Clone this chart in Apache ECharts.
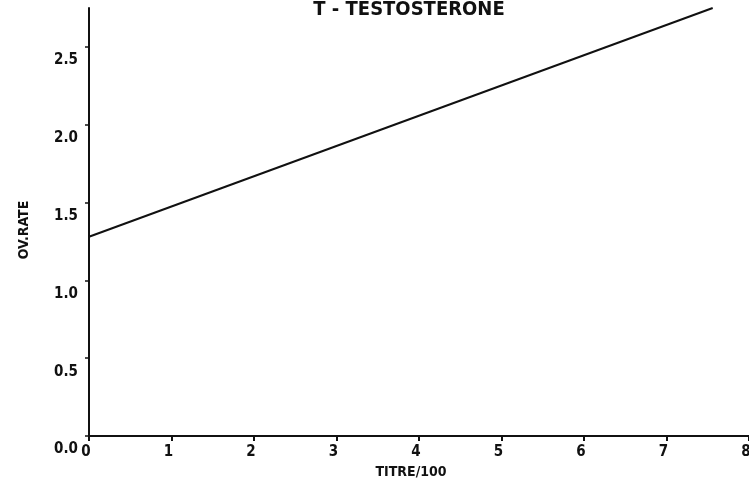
<!DOCTYPE html>
<html>
<head>
<meta charset="utf-8">
<script src="https://cdn.jsdelivr.net/npm/echarts@6/dist/echarts.min.js"></script>
<style>
  html, body { margin: 0; padding: 0; background: #fff; }
  #chart { width: 749px; height: 480px; }
</style>
</head>
<body>
<div id="chart"></div>
<script>
// Fitted ovulation rate against titre: straight line endpoints
const titre = [0, 7.56];
const ovRate = [1.28, 2.75];

// Axis ticks
const xTicks = [0, 1, 2, 3, 4, 5, 6, 7, 8];
const yTicks = [0.0, 0.5, 1.0, 1.5, 2.0, 2.5];

const chartTitle = 'T - TESTOSTERONE';
const xName = 'TITRE/100';
const yName = 'OV.RATE';

const FONT = '"DejaVu Sans Condensed", "Liberation Sans Narrow", sans-serif';
const INK = '#111';

const chart = echarts.init(document.getElementById('chart'), null, { renderer: 'canvas' });

chart.setOption({
  animation: false,
  backgroundColor: '#fff',
  title: {
    text: chartTitle,
    left: 404,
    top: -5,
    textAlign: 'center',
    textStyle: { fontFamily: FONT, fontSize: 20, fontWeight: 'bold', color: INK }
  },
  grid: { left: 89, right: 0, top: 8, bottom: 44, outerBoundsMode: 'none', containLabel: false },
  xAxis: {
    type: 'value',
    min: 0,
    max: 8,
    interval: 1,
    name: xName,
    nameLocation: 'middle',
    nameGap: 29,
    nameTextStyle: { fontFamily: FONT, fontSize: 14, fontWeight: 'bold', color: INK, padding: [0, 0, 0, -16] },
    splitLine: { show: false },
    axisLine: { show: true, lineStyle: { color: INK, width: 2 } },
    axisTick: { show: true, length: 5, lineStyle: { color: INK, width: 2 }, customValues: xTicks },
    axisLabel: {
      customValues: xTicks,
      fontFamily: FONT, fontSize: 15, fontWeight: 'bold', color: INK,
      margin: 9,
      padding: [0, 6, 0, 0]
    }
  },
  yAxis: {
    type: 'value',
    min: 0,
    max: 2.75,
    interval: 0.5,
    name: yName,
    nameLocation: 'middle',
    nameRotate: 90,
    nameGap: 58,
    nameTextStyle: { fontFamily: FONT, fontSize: 14, fontWeight: 'bold', color: INK, padding: [0, 16, 0, 0] },
    splitLine: { show: false },
    axisLine: { show: true, lineStyle: { color: INK, width: 2 } },
    axisTick: { show: true, length: 4, lineStyle: { color: INK, width: 1.5 }, customValues: yTicks },
    axisLabel: {
      customValues: yTicks,
      formatter: v => v.toFixed(1),
      fontFamily: FONT, fontSize: 15, fontWeight: 'bold', color: INK,
      margin: 11,
      verticalAlign: 'top',
      padding: [6, 0, 0, 0]
    }
  },
  series: [{
    type: 'line',
    data: titre.map((x, i) => [x, ovRate[i]]),
    showSymbol: false,
    lineStyle: { color: INK, width: 2 },
    silent: true
  }]
});
</script>
</body>
</html>
